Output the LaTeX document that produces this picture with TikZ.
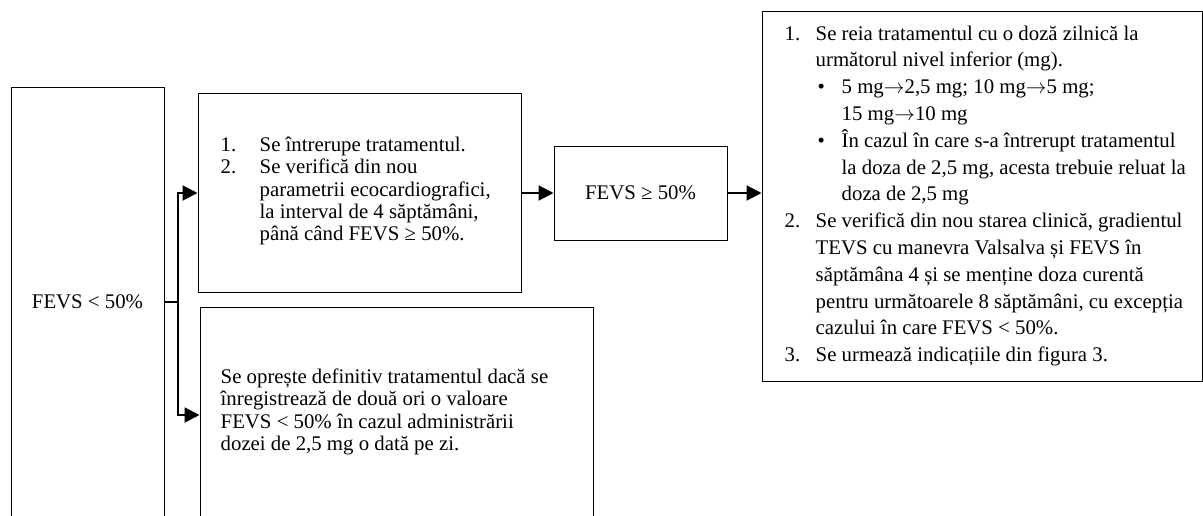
\documentclass[tikz,border=0pt]{standalone}
\usepackage{fontspec}
\setmainfont{Liberation Serif}
\usetikzlibrary{positioning, arrows.meta, calc}

\newcommand{\lab}[2]{\makebox[#1][l]{#2}}
\newcommand{\ra}{$\rightarrow$}

\begin{document}
\begin{tikzpicture}[x=1pt, y=-1pt,
  box/.style={draw, line width=1pt, inner sep=0pt},
  txt/.style={inner sep=0pt, align=left, font=\fontsize{20.8}{22.2}\selectfont},
  longtxt/.style={txt, font=\fontsize{20.8}{26.8}\selectfont},
  arr/.style={-{Triangle[length=15pt, width=15pt]}, line width=2pt},
  stub/.style={line width=2pt}
]
  \useasboundingbox (0,0) rectangle (1203,515);
  \clip (0,0) rectangle (1203,515);

  % Start node
  \node[box, txt, align=center, minimum width=153pt, minimum height=430pt] (low) at (87.5,302) {FEVS < 50\%};

  % Two branches
  \node[box, minimum width=323pt, minimum height=199pt] (stop) at (359.5,193) {};
  \node[txt, anchor=west] (stoptxt) at ($(stop.west)+(23,-2)$) {%
    \lab{39pt}{1.}Se întrerupe tratamentul.\\
    \lab{39pt}{2.}Se verifică din nou\\
    \hspace*{39pt}parametrii ecocardiografici,\\
    \hspace*{39pt}la interval de 4 săptămâni,\\
    \hspace*{39pt}până când FEVS ≥ 50\%.};

  \node[box, minimum width=393pt, minimum height=216pt] (quit) at (396.5,415) {};
  \node[txt, anchor=west] (quittxt) at ($(quit.west)+(21,-3)$) {%
    Se oprește definitiv tratamentul dacă se\\
    înregistrează de două ori o valoare\\
    FEVS < 50\% în cazul administrării\\
    dozei de 2,5 mg o dată pe zi.};

  % Recovery
  \node[box, txt, align=center, minimum width=173pt, minimum height=94pt] (high) at (640.5,193) {FEVS ≥ 50\%};

  \node[box, minimum width=440pt, minimum height=370pt] (resume) at (982,196) {};
  \node[longtxt, anchor=west] (resumetxt) at ($(resume.west)+(23,0)$) {%
    \lab{31pt}{1.}Se reia tratamentul cu o doză zilnică la\\
    \hspace*{31pt}următorul nivel inferior (mg).\\
    \hspace*{33pt}\lab{24pt}{•}5 mg\ra2,5 mg; 10 mg\ra5 mg;\\
    \hspace*{57pt}15 mg\ra10 mg\\
    \hspace*{33pt}\lab{24pt}{•}În cazul în care s-a întrerupt tratamentul\\
    \hspace*{57pt}la doza de 2,5 mg, acesta trebuie reluat la\\
    \hspace*{57pt}doza de 2,5 mg\\
    \lab{31pt}{2.}Se verifică din nou starea clinică, gradientul\\
    \hspace*{31pt}TEVS cu manevra Valsalva și FEVS în\\
    \hspace*{31pt}săptămâna 4 și se menține doza curentă\\
    \hspace*{31pt}pentru următoarele 8 săptămâni, cu excepția\\
    \hspace*{31pt}cazului în care FEVS < 50\%.\\
    \lab{31pt}{3.}Se urmează indicațiile din figura 3.};

  % Connectors
  \coordinate (split) at ($(low.east)+(13,0)$);
  \draw[stub] (low.east) -- (split);
  \draw[arr] (split) |- (stop.west);
  \draw[arr] (split) |- (quit.west);
  \draw[arr] (stop.east) -- (high.west);
  \draw[arr] (high.east) -- (high.east -| resume.west);

\end{tikzpicture}
\end{document}
